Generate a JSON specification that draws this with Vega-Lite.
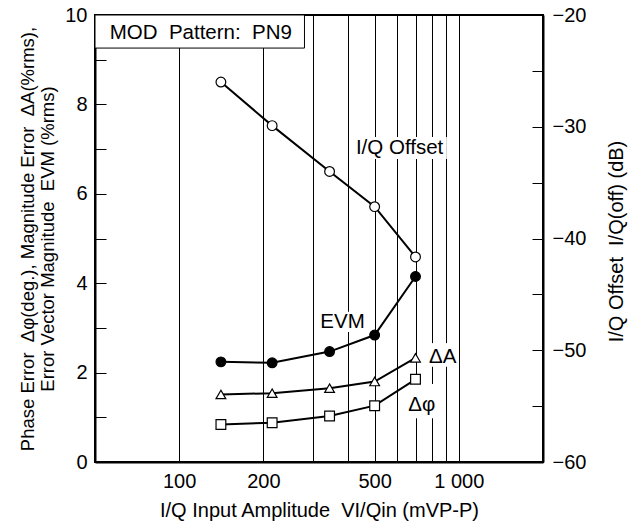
{
  "$schema": "https://vega.github.io/schema/vega-lite/v6.json",
  "width": 448,
  "height": 447,
  "autosize": {"type": "none"},
  "padding": {"left": 95, "top": 15, "right": 93, "bottom": 63},
  "background": "white",
  "config": {
    "font": "Liberation Sans",
    "view": {"stroke": "#000", "strokeWidth": 2},
    "axis": {"labelFont": "Liberation Sans", "titleFont": "Liberation Sans", "labelColor": "#000", "titleColor": "#000", "titleFontWeight": "normal", "domainColor": "#000", "domainWidth": 2, "tickColor": "#000"}
  },
  "datasets": {
    "series": [
      {"series": "EVM", "x": 141, "y": 2.24},
      {"series": "EVM", "x": 215, "y": 2.22},
      {"series": "EVM", "x": 345, "y": 2.47},
      {"series": "EVM", "x": 500, "y": 2.84},
      {"series": "EVM", "x": 700, "y": 4.15},
      {"series": "dA", "x": 141, "y": 1.51},
      {"series": "dA", "x": 215, "y": 1.54},
      {"series": "dA", "x": 345, "y": 1.65},
      {"series": "dA", "x": 500, "y": 1.8},
      {"series": "dA", "x": 700, "y": 2.33},
      {"series": "dphi", "x": 141, "y": 0.84},
      {"series": "dphi", "x": 215, "y": 0.88},
      {"series": "dphi", "x": 345, "y": 1.03},
      {"series": "dphi", "x": 500, "y": 1.26},
      {"series": "dphi", "x": 700, "y": 1.85}
    ],
    "offset": [
      {"series": "IQ", "x": 141, "y": -26.0},
      {"series": "IQ", "x": 215, "y": -29.9},
      {"series": "IQ", "x": 345, "y": -34.0},
      {"series": "IQ", "x": 500, "y": -37.15},
      {"series": "IQ", "x": 700, "y": -41.65}
    ],
    "masks": [
      {"x": 315, "x2": 472, "y": 2.91, "y2": 3.36},
      {"x": 749, "x2": 967, "y": 2.13, "y2": 2.66},
      {"x": 656, "x2": 827, "y": 0.98, "y2": 1.745},
      {"x": 424, "x2": 906, "y": 6.78, "y2": 7.27}
    ],
    "box": [
      {"x": 50, "x2": 280.6, "y": 9.26, "y2": 10}
    ],
    "notes": [
      {"label": "EVM", "x": 384, "y": 3.13},
      {"label": "\u0394A", "x": 876, "y": 2.35},
      {"label": "\u0394\u03c6", "x": 737, "y": 1.28},
      {"label": "I/Q Offset", "x": 614, "y": 7.02},
      {"label": "MOD\u00a0 Pattern:\u00a0 PN9", "x": 119.5, "y": 9.6}
    ]
  },
  "encoding": {
    "x": {
      "field": "x", "type": "quantitative",
      "scale": {"type": "log", "domain": [50, 2000], "nice": false},
      "axis": {
        "orient": "bottom",
        "values": [100, 200, 300, 400, 500, 600, 700, 800, 900, 1000],
        "labelExpr": "datum.value == 100 ? '100' : datum.value == 200 ? '200' : datum.value == 500 ? '500' : datum.value == 1000 ? '1 000' : ''",
        "grid": true, "gridColor": "#000", "gridWidth": 1, "gridOpacity": 1,
        "ticks": false, "labelPadding": 9.5, "labelFontSize": 20,
        "title": "I/Q Input Amplitude\u00a0 VI/Qin (mVP-P)", "titleFontSize": 20, "titlePadding": 9
      }
    }
  },
  "layer": [
    {
      "encoding": {
        "y": {
          "field": "y", "type": "quantitative",
          "scale": {"domain": [0, 10], "nice": false, "zero": false},
          "axis": {
            "orient": "left",
            "values": [0, 1, 2, 3, 4, 5, 6, 7, 8, 9, 10],
            "labelExpr": "datum.value % 2 === 0 ? datum.label : ''",
            "tickSize": -11, "tickWidth": 1, "labelPadding": 19, "labelFontSize": 20, "grid": false,
            "title": ["Phase Error\u00a0 \u0394\u03c6(deg.), Magnitude Error\u00a0 \u0394A(%rms),", "Error Vector Magnitude\u00a0 EVM (%rms)"],
            "titleFontSize": 18.5, "titleLineHeight": 19.5,
            "titleAngle": -90, "titleAlign": "center", "titleBaseline": "alphabetic",
            "titleX": -61.5, "titleY": 223.5
          }
        }
      },
      "layer": [
        {
          "data": {"name": "masks"},
          "mark": {"type": "rect", "fill": "white"},
          "encoding": {"x2": {"field": "x2"}, "y2": {"field": "y2"}}
        },
        {
          "data": {"name": "box"},
          "mark": {"type": "rect", "fill": "white", "stroke": "#000", "strokeWidth": 1},
          "encoding": {"x2": {"field": "x2"}, "y2": {"field": "y2"}}
        },
        {
          "data": {"name": "series"},
          "mark": {"type": "line", "color": "#000", "strokeWidth": 2},
          "encoding": {"detail": {"field": "series"}}
        },
        {
          "data": {"name": "series"},
          "mark": {"type": "point", "filled": true, "stroke": "#000", "strokeWidth": 1.2, "size": 95, "opacity": 1},
          "encoding": {
            "shape": {"field": "series", "type": "nominal", "scale": {"domain": ["EVM", "dA", "dphi"], "range": ["circle", "triangle-up", "square"]}, "legend": null},
            "fill": {"field": "series", "type": "nominal", "scale": {"domain": ["EVM", "dA", "dphi"], "range": ["#000", "#fff", "#fff"]}, "legend": null}
          }
        },
        {
          "data": {"name": "notes"},
          "mark": {"type": "text", "fontSize": 20.5, "align": "center", "baseline": "middle", "color": "#000"},
          "encoding": {"text": {"field": "label"}}
        }
      ]
    },
    {
      "data": {"name": "offset"},
      "encoding": {
        "y": {
          "field": "y", "type": "quantitative",
          "scale": {"domain": [-60, -20], "nice": false, "zero": false},
          "axis": {
            "orient": "right",
            "values": [-60, -55, -50, -45, -40, -35, -30, -25, -20],
            "labelExpr": "datum.value % 10 === 0 ? datum.label : ''",
            "tickSize": -11, "tickWidth": 1, "labelPadding": 20, "labelFontSize": 20, "grid": false,
            "title": "I/Q Offset\u00a0 I/Q(off) (dB)", "titleFontSize": 20,
            "titleAngle": -90, "titleAlign": "center", "titleBaseline": "alphabetic",
            "titleX": 79, "titleY": 226
          }
        }
      },
      "layer": [
        {"mark": {"type": "line", "color": "#000", "strokeWidth": 2}},
        {"mark": {"type": "point", "filled": true, "fill": "#fff", "stroke": "#000", "strokeWidth": 1.2, "size": 95, "shape": "circle", "opacity": 1}}
      ]
    }
  ],
  "resolve": {"scale": {"y": "independent"}}
}
